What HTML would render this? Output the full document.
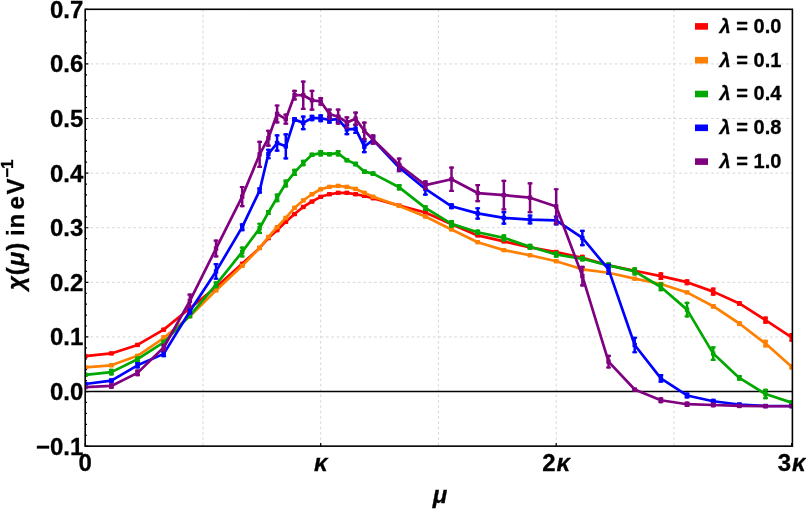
<!DOCTYPE html><html><head><meta charset="utf-8"><style>html,body{margin:0;padding:0;background:#fff}svg{display:block;will-change:transform;opacity:0.999}text{font-family:"Liberation Sans",sans-serif;font-weight:bold;fill:#000;stroke:#000;stroke-width:0.3px}</style></head><body>
<svg width="806" height="509" viewBox="0 0 806 509">
<rect width="806" height="509" fill="#fff"/>
<path d="M202.95 9.3V446.15M320.70 9.3V446.15M438.45 9.3V446.15M556.20 9.3V446.15M673.95 9.3V446.15M85.2 63.91H792.4M85.2 118.51H792.4M85.2 173.12H792.4M85.2 227.73H792.4M85.2 282.33H792.4M85.2 336.94H792.4" stroke="#d2d2d2" stroke-width="0.9" stroke-dasharray="2.7 2.65" fill="none"/>
<path d="M85.2 391.54H792.4" stroke="#000" stroke-width="1.4" fill="none"/>
<clipPath id="cp"><rect x="85.2" y="9.3" width="707.20" height="436.85"/></clipPath><g clip-path="url(#cp)">
<g stroke="#ff0000" fill="none"><polyline points="85.20,356.05 111.37,353.43 137.53,344.91 163.70,329.62 189.87,308.21 216.03,287.25 242.20,263.82 259.64,247.93 268.37,238.10 277.09,230.18 285.81,221.72 294.53,214.07 303.26,206.97 311.98,201.51 320.70,196.82 329.42,194.25 338.14,192.83 346.87,192.83 355.59,194.25 364.31,195.83 373.03,198.24 399.20,205.66 425.37,212.44 451.53,224.34 477.70,235.42 503.87,241.43 530.03,247.33 556.20,252.02 582.37,257.81 608.53,265.40 634.70,270.75 660.87,276.16 687.03,282.17 713.20,291.61 739.37,303.46 765.53,320.06 791.70,337.27" stroke-width="2.7" stroke-linejoin="round"/><path d="M85.20 354.41V357.69M111.37 351.79V355.07M137.53 343.27V346.55M163.70 327.98V331.26M189.87 306.58V309.85M216.03 285.61V288.88M242.20 262.18V265.46M259.64 246.29V249.57M268.37 236.46V239.74M277.09 228.54V231.82M285.81 220.08V223.36M294.53 212.44V215.71M303.26 205.34V208.61M311.98 199.88V203.15M320.70 195.18V198.46M329.42 192.61V195.89M338.14 191.19V194.47M346.87 191.19V194.47M355.59 192.61V195.89M364.31 194.20V197.47M373.03 196.60V199.88M399.20 204.03V207.30M425.37 210.80V214.07M451.53 222.70V225.98M477.70 233.79V237.06M503.87 239.79V243.07M530.03 245.69V248.97M556.20 250.39V253.66M582.37 254.81V260.82M608.53 263.22V267.59M634.70 268.57V272.94M660.87 272.34V279.98M687.03 279.16V285.17M713.20 287.52V295.71M739.37 301.28V305.65M765.53 316.41V323.72M791.70 332.90V341.63" stroke-width="2.5"/><path d="M82.80 355.51H87.60M82.80 356.59H87.60M108.97 352.89H113.77M108.97 353.97H113.77M135.13 344.37H139.93M135.13 345.45H139.93M161.30 329.08H166.10M161.30 330.16H166.10M187.47 307.68H192.27M187.47 308.75H192.27M213.63 286.71H218.43M213.63 287.78H218.43M239.80 263.28H244.60M239.80 264.36H244.60M257.24 247.39H262.04M257.24 248.47H262.04M265.97 237.56H270.77M265.97 238.64H270.77M274.69 229.64H279.49M274.69 230.72H279.49M283.41 221.18H288.21M283.41 222.26H288.21M292.13 213.54H296.93M292.13 214.61H296.93M300.86 206.44H305.66M300.86 207.51H305.66M309.58 200.98H314.38M309.58 202.05H314.38M318.30 196.28H323.10M318.30 197.36H323.10M327.02 193.71H331.82M327.02 194.79H331.82M335.74 192.29H340.54M335.74 193.37H340.54M344.47 192.29H349.27M344.47 193.37H349.27M353.19 193.71H357.99M353.19 194.79H357.99M361.91 195.30H366.71M361.91 196.37H366.71M370.63 197.70H375.43M370.63 198.78H375.43M396.80 205.13H401.60M396.80 206.20H401.60M422.97 211.90H427.77M422.97 212.97H427.77M449.13 223.80H453.93M449.13 224.88H453.93M475.30 234.89H480.10M475.30 235.96H480.10M501.47 240.89H506.27M501.47 241.97H506.27M527.63 246.79H532.43M527.63 247.87H532.43M553.80 251.49H558.60M553.80 252.56H558.60M579.97 255.91H584.77M579.97 259.72H584.77M606.13 264.32H610.93M606.13 266.49H610.93M632.30 269.67H637.10M632.30 271.84H637.10M658.47 273.44H663.27M658.47 278.88H663.27M684.63 280.26H689.43M684.63 284.07H689.43M710.80 288.62H715.60M710.80 294.61H715.60M736.97 302.38H741.77M736.97 304.55H741.77M763.13 317.51H767.93M763.13 322.62H767.93M789.30 334.00H794.10M789.30 340.53H794.10" stroke-width="2.2"/></g>
<g fill="#ff0000"><rect x="83.00" y="353.85" width="4.4" height="4.4"/><rect x="109.17" y="351.23" width="4.4" height="4.4"/><rect x="135.33" y="342.71" width="4.4" height="4.4"/><rect x="161.50" y="327.42" width="4.4" height="4.4"/><rect x="187.67" y="306.01" width="4.4" height="4.4"/><rect x="213.83" y="285.05" width="4.4" height="4.4"/><rect x="240.00" y="261.62" width="4.4" height="4.4"/><rect x="257.44" y="245.73" width="4.4" height="4.4"/><rect x="266.17" y="235.90" width="4.4" height="4.4"/><rect x="274.89" y="227.98" width="4.4" height="4.4"/><rect x="283.61" y="219.52" width="4.4" height="4.4"/><rect x="292.33" y="211.87" width="4.4" height="4.4"/><rect x="301.06" y="204.77" width="4.4" height="4.4"/><rect x="309.78" y="199.31" width="4.4" height="4.4"/><rect x="318.50" y="194.62" width="4.4" height="4.4"/><rect x="327.22" y="192.05" width="4.4" height="4.4"/><rect x="335.94" y="190.63" width="4.4" height="4.4"/><rect x="344.67" y="190.63" width="4.4" height="4.4"/><rect x="353.39" y="192.05" width="4.4" height="4.4"/><rect x="362.11" y="193.63" width="4.4" height="4.4"/><rect x="370.83" y="196.04" width="4.4" height="4.4"/><rect x="397.00" y="203.46" width="4.4" height="4.4"/><rect x="423.17" y="210.24" width="4.4" height="4.4"/><rect x="449.33" y="222.14" width="4.4" height="4.4"/><rect x="475.50" y="233.22" width="4.4" height="4.4"/><rect x="501.67" y="239.23" width="4.4" height="4.4"/><rect x="527.83" y="245.13" width="4.4" height="4.4"/><rect x="554.00" y="249.82" width="4.4" height="4.4"/><rect x="580.17" y="255.61" width="4.4" height="4.4"/><rect x="606.33" y="263.20" width="4.4" height="4.4"/><rect x="632.50" y="268.55" width="4.4" height="4.4"/><rect x="658.67" y="273.96" width="4.4" height="4.4"/><rect x="684.83" y="279.97" width="4.4" height="4.4"/><rect x="711.00" y="289.41" width="4.4" height="4.4"/><rect x="737.17" y="301.26" width="4.4" height="4.4"/><rect x="763.33" y="317.86" width="4.4" height="4.4"/><rect x="789.50" y="335.07" width="4.4" height="4.4"/></g>
<g stroke="#ff8000" fill="none"><polyline points="85.20,367.30 111.37,365.33 137.53,355.83 163.70,338.03 189.87,316.19 216.03,290.41 242.20,265.84 259.64,247.93 268.37,237.01 277.09,227.18 285.81,217.90 294.53,207.79 303.26,200.42 311.98,194.25 320.70,189.28 329.42,186.88 338.14,185.90 346.87,186.88 355.59,188.90 364.31,192.83 373.03,196.82 399.20,205.88 425.37,216.53 451.53,229.47 477.70,242.20 503.87,250.11 530.03,255.30 556.20,261.20 582.37,269.33 608.53,272.72 634.70,278.67 660.87,283.97 687.03,292.43 713.20,306.19 739.37,323.50 765.53,343.60 791.70,366.70" stroke-width="2.7" stroke-linejoin="round"/><path d="M85.20 365.66V368.94M111.37 363.69V366.97M137.53 354.19V357.47M163.70 335.30V340.76M189.87 314.55V317.83M216.03 288.77V292.05M242.20 264.20V267.48M259.64 246.29V249.57M268.37 235.37V238.65M277.09 225.54V228.82M285.81 216.26V219.53M294.53 206.16V209.43M303.26 198.78V202.06M311.98 192.61V195.89M320.70 187.64V190.92M329.42 185.24V188.52M338.14 184.26V187.53M346.87 185.24V188.52M355.59 187.26V190.54M364.31 191.19V194.47M373.03 195.18V198.46M399.20 204.24V207.52M425.37 214.89V218.17M451.53 227.83V231.11M477.70 240.56V243.83M503.87 248.48V251.75M530.03 253.66V256.94M556.20 259.56V262.84M582.37 267.70V270.97M608.53 271.08V274.36M634.70 277.03V280.31M660.87 282.33V285.61M687.03 290.80V294.07M713.20 304.01V308.38M739.37 321.32V325.69M765.53 339.78V347.42M791.70 363.97V369.43" stroke-width="2.5"/><path d="M82.80 366.76H87.60M82.80 367.84H87.60M108.97 364.79H113.77M108.97 365.87H113.77M135.13 355.29H139.93M135.13 356.37H139.93M161.30 336.40H166.10M161.30 339.66H166.10M187.47 315.65H192.27M187.47 316.73H192.27M213.63 289.87H218.43M213.63 290.95H218.43M239.80 265.30H244.60M239.80 266.38H244.60M257.24 247.39H262.04M257.24 248.47H262.04M265.97 236.47H270.77M265.97 237.55H270.77M274.69 226.64H279.49M274.69 227.72H279.49M283.41 217.36H288.21M283.41 218.43H288.21M292.13 207.26H296.93M292.13 208.33H296.93M300.86 199.88H305.66M300.86 200.96H305.66M309.58 193.71H314.38M309.58 194.79H314.38M318.30 188.74H323.10M318.30 189.82H323.10M327.02 186.34H331.82M327.02 187.42H331.82M335.74 185.36H340.54M335.74 186.43H340.54M344.47 186.34H349.27M344.47 187.42H349.27M353.19 188.36H357.99M353.19 189.44H357.99M361.91 192.29H366.71M361.91 193.37H366.71M370.63 196.28H375.43M370.63 197.36H375.43M396.80 205.34H401.60M396.80 206.42H401.60M422.97 215.99H427.77M422.97 217.07H427.77M449.13 228.93H453.93M449.13 230.01H453.93M475.30 241.66H480.10M475.30 242.73H480.10M501.47 249.58H506.27M501.47 250.65H506.27M527.63 254.76H532.43M527.63 255.84H532.43M553.80 260.66H558.60M553.80 261.74H558.60M579.97 268.80H584.77M579.97 269.87H584.77M606.13 272.18H610.93M606.13 273.26H610.93M632.30 278.13H637.10M632.30 279.21H637.10M658.47 283.43H663.27M658.47 284.51H663.27M684.63 291.90H689.43M684.63 292.97H689.43M710.80 305.11H715.60M710.80 307.28H715.60M736.97 322.42H741.77M736.97 324.59H741.77M763.13 340.88H767.93M763.13 346.32H767.93M789.30 365.07H794.10M789.30 368.33H794.10" stroke-width="2.2"/></g>
<g fill="#ff8000"><rect x="83.00" y="365.10" width="4.4" height="4.4"/><rect x="109.17" y="363.13" width="4.4" height="4.4"/><rect x="135.33" y="353.63" width="4.4" height="4.4"/><rect x="161.50" y="335.83" width="4.4" height="4.4"/><rect x="187.67" y="313.99" width="4.4" height="4.4"/><rect x="213.83" y="288.21" width="4.4" height="4.4"/><rect x="240.00" y="263.64" width="4.4" height="4.4"/><rect x="257.44" y="245.73" width="4.4" height="4.4"/><rect x="266.17" y="234.81" width="4.4" height="4.4"/><rect x="274.89" y="224.98" width="4.4" height="4.4"/><rect x="283.61" y="215.70" width="4.4" height="4.4"/><rect x="292.33" y="205.59" width="4.4" height="4.4"/><rect x="301.06" y="198.22" width="4.4" height="4.4"/><rect x="309.78" y="192.05" width="4.4" height="4.4"/><rect x="318.50" y="187.08" width="4.4" height="4.4"/><rect x="327.22" y="184.68" width="4.4" height="4.4"/><rect x="335.94" y="183.70" width="4.4" height="4.4"/><rect x="344.67" y="184.68" width="4.4" height="4.4"/><rect x="353.39" y="186.70" width="4.4" height="4.4"/><rect x="362.11" y="190.63" width="4.4" height="4.4"/><rect x="370.83" y="194.62" width="4.4" height="4.4"/><rect x="397.00" y="203.68" width="4.4" height="4.4"/><rect x="423.17" y="214.33" width="4.4" height="4.4"/><rect x="449.33" y="227.27" width="4.4" height="4.4"/><rect x="475.50" y="240.00" width="4.4" height="4.4"/><rect x="501.67" y="247.91" width="4.4" height="4.4"/><rect x="527.83" y="253.10" width="4.4" height="4.4"/><rect x="554.00" y="259.00" width="4.4" height="4.4"/><rect x="580.17" y="267.13" width="4.4" height="4.4"/><rect x="606.33" y="270.52" width="4.4" height="4.4"/><rect x="632.50" y="276.47" width="4.4" height="4.4"/><rect x="658.67" y="281.77" width="4.4" height="4.4"/><rect x="684.83" y="290.23" width="4.4" height="4.4"/><rect x="711.00" y="303.99" width="4.4" height="4.4"/><rect x="737.17" y="321.30" width="4.4" height="4.4"/><rect x="763.33" y="341.40" width="4.4" height="4.4"/><rect x="789.50" y="364.50" width="4.4" height="4.4"/></g>
<g stroke="#00a800" fill="none"><polyline points="85.20,374.89 111.37,372.10 137.53,359.22 163.70,342.40 189.87,315.64 216.03,284.68 242.20,251.92 259.64,228.27 268.37,212.44 277.09,197.80 285.81,183.49 294.53,172.41 303.26,163.07 311.98,154.83 320.70,153.19 329.42,154.17 338.14,153.19 346.87,160.12 355.59,164.05 364.31,171.64 373.03,173.61 399.20,187.32 425.37,207.90 451.53,223.90 477.70,232.26 503.87,237.83 530.03,246.73 556.20,254.48 582.37,258.80 608.53,265.40 634.70,271.36 660.87,286.97 687.03,309.63 713.20,353.59 739.37,377.89 765.53,394.06 791.70,402.63" stroke-width="2.7" stroke-linejoin="round"/><path d="M85.20 372.70V377.07M111.37 368.83V375.38M137.53 356.49V361.95M163.70 339.67V345.13M189.87 312.91V318.37M216.03 281.13V288.23M242.20 246.45V257.38M259.64 222.65V233.90M268.37 209.92V214.95M277.09 193.43V202.17M285.81 179.51V187.48M294.53 168.75V176.07M303.26 159.79V166.35M311.98 152.64V157.01M320.70 149.91V156.46M329.42 151.99V156.35M338.14 149.91V156.46M346.87 157.94V162.31M355.59 161.87V166.24M364.31 169.46V173.83M373.03 171.43V175.79M399.20 184.04V190.59M425.37 205.17V210.63M451.53 220.08V227.73M477.70 229.53V234.99M503.87 234.28V241.38M530.03 243.72V249.73M556.20 251.21V257.76M582.37 256.07V261.53M608.53 262.13V268.68M634.70 267.21V275.51M660.87 282.60V291.34M687.03 301.72V317.55M713.20 346.28V360.91M739.37 374.94V380.84M765.53 388.81V399.30M791.70 400.44V404.81" stroke-width="2.5"/><path d="M82.80 373.80H87.60M82.80 375.97H87.60M108.97 369.93H113.77M108.97 374.28H113.77M135.13 357.59H139.93M135.13 360.85H139.93M161.30 340.77H166.10M161.30 344.03H166.10M187.47 314.01H192.27M187.47 317.27H192.27M213.63 282.23H218.43M213.63 287.13H218.43M239.80 247.55H244.60M239.80 256.28H244.60M257.24 223.75H262.04M257.24 232.80H262.04M265.97 211.02H270.77M265.97 213.85H270.77M274.69 194.53H279.49M274.69 201.07H279.49M283.41 180.61H288.21M283.41 186.38H288.21M292.13 169.85H296.93M292.13 174.97H296.93M300.86 160.89H305.66M300.86 165.25H305.66M309.58 153.74H314.38M309.58 155.91H314.38M318.30 151.01H323.10M318.30 155.36H323.10M327.02 153.09H331.82M327.02 155.25H331.82M335.74 151.01H340.54M335.74 155.36H340.54M344.47 159.04H349.27M344.47 161.21H349.27M353.19 162.97H357.99M353.19 165.14H357.99M361.91 170.56H366.71M361.91 172.73H366.71M370.63 172.53H375.43M370.63 174.69H375.43M396.80 185.14H401.60M396.80 189.49H401.60M422.97 206.27H427.77M422.97 209.53H427.77M449.13 221.18H453.93M449.13 226.63H453.93M475.30 230.63H480.10M475.30 233.89H480.10M501.47 235.38H506.27M501.47 240.28H506.27M527.63 244.82H532.43M527.63 248.63H532.43M553.80 252.31H558.60M553.80 256.66H558.60M579.97 257.17H584.77M579.97 260.43H584.77M606.13 263.23H610.93M606.13 267.58H610.93M632.30 268.31H637.10M632.30 274.41H637.10M658.47 283.70H663.27M658.47 290.24H663.27M684.63 302.82H689.43M684.63 316.45H689.43M710.80 347.38H715.60M710.80 359.81H715.60M736.97 376.04H741.77M736.97 379.74H741.77M763.13 389.91H767.93M763.13 398.20H767.93M789.30 401.54H794.10M789.30 403.71H794.10" stroke-width="2.2"/></g>
<g fill="#00a800"><rect x="83.00" y="372.69" width="4.4" height="4.4"/><rect x="109.17" y="369.90" width="4.4" height="4.4"/><rect x="135.33" y="357.02" width="4.4" height="4.4"/><rect x="161.50" y="340.20" width="4.4" height="4.4"/><rect x="187.67" y="313.44" width="4.4" height="4.4"/><rect x="213.83" y="282.48" width="4.4" height="4.4"/><rect x="240.00" y="249.72" width="4.4" height="4.4"/><rect x="257.44" y="226.07" width="4.4" height="4.4"/><rect x="266.17" y="210.24" width="4.4" height="4.4"/><rect x="274.89" y="195.60" width="4.4" height="4.4"/><rect x="283.61" y="181.29" width="4.4" height="4.4"/><rect x="292.33" y="170.21" width="4.4" height="4.4"/><rect x="301.06" y="160.87" width="4.4" height="4.4"/><rect x="309.78" y="152.63" width="4.4" height="4.4"/><rect x="318.50" y="150.99" width="4.4" height="4.4"/><rect x="327.22" y="151.97" width="4.4" height="4.4"/><rect x="335.94" y="150.99" width="4.4" height="4.4"/><rect x="344.67" y="157.92" width="4.4" height="4.4"/><rect x="353.39" y="161.85" width="4.4" height="4.4"/><rect x="362.11" y="169.44" width="4.4" height="4.4"/><rect x="370.83" y="171.41" width="4.4" height="4.4"/><rect x="397.00" y="185.12" width="4.4" height="4.4"/><rect x="423.17" y="205.70" width="4.4" height="4.4"/><rect x="449.33" y="221.70" width="4.4" height="4.4"/><rect x="475.50" y="230.06" width="4.4" height="4.4"/><rect x="501.67" y="235.63" width="4.4" height="4.4"/><rect x="527.83" y="244.53" width="4.4" height="4.4"/><rect x="554.00" y="252.28" width="4.4" height="4.4"/><rect x="580.17" y="256.60" width="4.4" height="4.4"/><rect x="606.33" y="263.20" width="4.4" height="4.4"/><rect x="632.50" y="269.16" width="4.4" height="4.4"/><rect x="658.67" y="284.77" width="4.4" height="4.4"/><rect x="684.83" y="307.43" width="4.4" height="4.4"/><rect x="711.00" y="351.39" width="4.4" height="4.4"/><rect x="737.17" y="375.69" width="4.4" height="4.4"/><rect x="763.33" y="391.86" width="4.4" height="4.4"/><rect x="789.50" y="400.43" width="4.4" height="4.4"/></g>
<g stroke="#0000ff" fill="none"><polyline points="85.20,384.01 111.37,380.62 137.53,365.33 163.70,353.87 189.87,311.27 216.03,271.41 242.20,227.18 259.64,190.59 268.37,154.01 277.09,143.09 285.81,146.36 294.53,119.44 303.26,122.88 311.98,117.91 320.70,118.29 329.42,119.88 338.14,119.11 346.87,129.43 355.59,128.83 364.31,146.69 373.03,139.81 399.20,167.55 425.37,188.95 451.53,206.26 477.70,213.42 503.87,217.90 530.03,219.53 556.20,220.46 582.37,237.99 608.53,269.33 634.70,345.02 660.87,378.38 687.03,395.48 713.20,401.26 739.37,404.49 765.53,406.01 791.70,406.01" stroke-width="2.7" stroke-linejoin="round"/><path d="M85.20 382.37V385.65M111.37 378.44V382.81M137.53 362.06V368.61M163.70 350.59V357.14M189.87 308.00V314.55M216.03 262.95V279.87M242.20 223.19V231.17M259.64 187.32V193.87M268.37 148.66V159.36M277.09 134.35V151.82M285.81 133.20V159.52M294.53 117.26V121.63M303.26 115.51V130.25M311.98 114.64V121.19M320.70 114.31V122.28M329.42 116.06V123.70M338.14 115.29V122.94M346.87 123.70V135.17M355.59 123.65V134.02M364.31 140.14V153.24M373.03 135.44V144.18M399.20 164.27V170.83M425.37 182.13V195.78M451.53 203.26V209.27M477.70 207.14V219.70M503.87 211.07V224.72M530.03 214.62V224.45M556.20 215.55V225.38M582.37 229.69V246.29M608.53 263.87V274.80M634.70 336.66V353.37M660.87 374.02V382.75M687.03 392.47V398.48M713.20 398.81V403.72M739.37 402.85V406.12M765.53 404.38V407.65M791.70 404.38V407.65" stroke-width="2.5"/><path d="M82.80 383.47H87.60M82.80 384.55H87.60M108.97 379.54H113.77M108.97 381.71H113.77M135.13 363.16H139.93M135.13 367.51H139.93M161.30 351.69H166.10M161.30 356.04H166.10M187.47 309.10H192.27M187.47 313.45H192.27M213.63 264.05H218.43M213.63 278.77H218.43M239.80 224.29H244.60M239.80 230.07H244.60M257.24 188.42H262.04M257.24 192.77H262.04M265.97 149.76H270.77M265.97 158.26H270.77M274.69 135.45H279.49M274.69 150.72H279.49M283.41 134.30H288.21M283.41 158.42H288.21M292.13 118.36H296.93M292.13 120.53H296.93M300.86 116.61H305.66M300.86 129.15H305.66M309.58 115.74H314.38M309.58 120.09H314.38M318.30 115.41H323.10M318.30 121.18H323.10M327.02 117.16H331.82M327.02 122.60H331.82M335.74 116.39H340.54M335.74 121.84H340.54M344.47 124.80H349.27M344.47 134.07H349.27M353.19 124.75H357.99M353.19 132.92H357.99M361.91 141.24H366.71M361.91 152.14H366.71M370.63 136.54H375.43M370.63 143.08H375.43M396.80 165.37H401.60M396.80 169.73H401.60M422.97 183.23H427.77M422.97 194.68H427.77M449.13 204.36H453.93M449.13 208.17H453.93M475.30 208.24H480.10M475.30 218.60H480.10M501.47 212.17H506.27M501.47 223.62H506.27M527.63 215.72H532.43M527.63 223.35H532.43M553.80 216.65H558.60M553.80 224.28H558.60M579.97 230.79H584.77M579.97 245.19H584.77M606.13 264.97H610.93M606.13 273.70H610.93M632.30 337.76H637.10M632.30 352.27H637.10M658.47 375.12H663.27M658.47 381.65H663.27M684.63 393.57H689.43M684.63 397.38H689.43M710.80 399.91H715.60M710.80 402.62H715.60M736.97 403.95H741.77M736.97 405.02H741.77M763.13 405.48H767.93M763.13 406.55H767.93M789.30 405.48H794.10M789.30 406.55H794.10" stroke-width="2.2"/></g>
<g fill="#0000ff"><rect x="83.00" y="381.81" width="4.4" height="4.4"/><rect x="109.17" y="378.42" width="4.4" height="4.4"/><rect x="135.33" y="363.13" width="4.4" height="4.4"/><rect x="161.50" y="351.67" width="4.4" height="4.4"/><rect x="187.67" y="309.07" width="4.4" height="4.4"/><rect x="213.83" y="269.21" width="4.4" height="4.4"/><rect x="240.00" y="224.98" width="4.4" height="4.4"/><rect x="257.44" y="188.39" width="4.4" height="4.4"/><rect x="266.17" y="151.81" width="4.4" height="4.4"/><rect x="274.89" y="140.89" width="4.4" height="4.4"/><rect x="283.61" y="144.16" width="4.4" height="4.4"/><rect x="292.33" y="117.24" width="4.4" height="4.4"/><rect x="301.06" y="120.68" width="4.4" height="4.4"/><rect x="309.78" y="115.71" width="4.4" height="4.4"/><rect x="318.50" y="116.09" width="4.4" height="4.4"/><rect x="327.22" y="117.68" width="4.4" height="4.4"/><rect x="335.94" y="116.91" width="4.4" height="4.4"/><rect x="344.67" y="127.23" width="4.4" height="4.4"/><rect x="353.39" y="126.63" width="4.4" height="4.4"/><rect x="362.11" y="144.49" width="4.4" height="4.4"/><rect x="370.83" y="137.61" width="4.4" height="4.4"/><rect x="397.00" y="165.35" width="4.4" height="4.4"/><rect x="423.17" y="186.75" width="4.4" height="4.4"/><rect x="449.33" y="204.06" width="4.4" height="4.4"/><rect x="475.50" y="211.22" width="4.4" height="4.4"/><rect x="501.67" y="215.70" width="4.4" height="4.4"/><rect x="527.83" y="217.33" width="4.4" height="4.4"/><rect x="554.00" y="218.26" width="4.4" height="4.4"/><rect x="580.17" y="235.79" width="4.4" height="4.4"/><rect x="606.33" y="267.13" width="4.4" height="4.4"/><rect x="632.50" y="342.82" width="4.4" height="4.4"/><rect x="658.67" y="376.18" width="4.4" height="4.4"/><rect x="684.83" y="393.28" width="4.4" height="4.4"/><rect x="711.00" y="399.06" width="4.4" height="4.4"/><rect x="737.17" y="402.29" width="4.4" height="4.4"/><rect x="763.33" y="403.81" width="4.4" height="4.4"/><rect x="789.50" y="403.81" width="4.4" height="4.4"/></g>
<g stroke="#800080" fill="none"><polyline points="85.20,387.18 111.37,385.97 137.53,372.87 163.70,347.48 189.87,300.90 216.03,248.53 242.20,196.60 259.64,154.33 268.37,138.17 277.09,113.93 285.81,119.11 294.53,95.03 303.26,95.25 311.98,100.22 320.70,101.42 329.42,113.93 338.14,116.71 346.87,122.44 355.59,118.68 364.31,130.80 373.03,139.43 399.20,164.98 425.37,185.13 451.53,179.23 477.70,193.05 503.87,195.13 530.03,197.69 556.20,206.43 582.37,276.05 608.53,361.67 634.70,389.52 660.87,400.23 687.03,404.21 713.20,404.98 739.37,405.96 765.53,406.23 791.70,406.23" stroke-width="2.7" stroke-linejoin="round"/><path d="M85.20 385.54V388.81M111.37 383.24V388.70M137.53 369.59V376.14M163.70 343.65V351.30M189.87 293.53V308.27M216.03 239.57V257.49M242.20 185.90V207.30M259.64 140.68V167.99M268.37 129.65V146.69M277.09 104.42V123.43M285.81 113.54V124.68M294.53 89.68V100.38M303.26 80.56V109.94M311.98 89.68V110.76M320.70 97.05V105.79M329.42 108.46V119.39M338.14 108.57V124.85M346.87 116.22V128.67M355.59 111.52V125.83M364.31 121.46V140.14M373.03 134.18V144.67M399.20 157.61V172.35M425.37 180.22V190.05M451.53 166.51V191.96M477.70 183.93V202.17M503.87 179.84V210.41M530.03 182.18V213.20M556.20 188.14V224.72M582.37 265.68V286.43M608.53 354.74V368.61M634.70 387.89V391.16M660.87 397.22V403.23M687.03 401.48V406.94M713.20 402.79V407.16M739.37 404.32V407.60M765.53 404.59V407.87M791.70 404.59V407.87" stroke-width="2.5"/><path d="M82.80 386.64H87.60M82.80 387.71H87.60M108.97 384.34H113.77M108.97 387.60H113.77M135.13 370.69H139.93M135.13 375.04H139.93M161.30 344.75H166.10M161.30 350.20H166.10M187.47 294.63H192.27M187.47 307.17H192.27M213.63 240.67H218.43M213.63 256.39H218.43M239.80 187.00H244.60M239.80 206.20H244.60M257.24 141.78H262.04M257.24 166.89H262.04M265.97 130.75H270.77M265.97 145.59H270.77M274.69 105.52H279.49M274.69 122.33H279.49M283.41 114.64H288.21M283.41 123.58H288.21M292.13 90.78H296.93M292.13 99.28H296.93M300.86 81.66H305.66M300.86 108.84H305.66M309.58 90.78H314.38M309.58 109.66H314.38M318.30 98.15H323.10M318.30 104.69H323.10M327.02 109.56H331.82M327.02 118.29H331.82M335.74 109.67H340.54M335.74 123.75H340.54M344.47 117.32H349.27M344.47 127.57H349.27M353.19 112.62H357.99M353.19 124.73H357.99M361.91 122.56H366.71M361.91 139.04H366.71M370.63 135.28H375.43M370.63 143.57H375.43M396.80 158.71H401.60M396.80 171.25H401.60M422.97 181.32H427.77M422.97 188.95H427.77M449.13 167.61H453.93M449.13 190.86H453.93M475.30 185.03H480.10M475.30 201.07H480.10M501.47 180.94H506.27M501.47 209.31H506.27M527.63 183.28H532.43M527.63 212.10H532.43M553.80 189.24H558.60M553.80 223.62H558.60M579.97 266.78H584.77M579.97 285.33H584.77M606.13 355.84H610.93M606.13 367.51H610.93M632.30 388.99H637.10M632.30 390.06H637.10M658.47 398.32H663.27M658.47 402.13H663.27M684.63 402.58H689.43M684.63 405.84H689.43M710.80 403.89H715.60M710.80 406.06H715.60M736.97 405.42H741.77M736.97 406.50H741.77M763.13 405.69H767.93M763.13 406.77H767.93M789.30 405.69H794.10M789.30 406.77H794.10" stroke-width="2.2"/></g>
<g fill="#800080"><rect x="83.00" y="384.98" width="4.4" height="4.4"/><rect x="109.17" y="383.77" width="4.4" height="4.4"/><rect x="135.33" y="370.67" width="4.4" height="4.4"/><rect x="161.50" y="345.28" width="4.4" height="4.4"/><rect x="187.67" y="298.70" width="4.4" height="4.4"/><rect x="213.83" y="246.33" width="4.4" height="4.4"/><rect x="240.00" y="194.40" width="4.4" height="4.4"/><rect x="257.44" y="152.13" width="4.4" height="4.4"/><rect x="266.17" y="135.97" width="4.4" height="4.4"/><rect x="274.89" y="111.73" width="4.4" height="4.4"/><rect x="283.61" y="116.91" width="4.4" height="4.4"/><rect x="292.33" y="92.83" width="4.4" height="4.4"/><rect x="301.06" y="93.05" width="4.4" height="4.4"/><rect x="309.78" y="98.02" width="4.4" height="4.4"/><rect x="318.50" y="99.22" width="4.4" height="4.4"/><rect x="327.22" y="111.73" width="4.4" height="4.4"/><rect x="335.94" y="114.51" width="4.4" height="4.4"/><rect x="344.67" y="120.24" width="4.4" height="4.4"/><rect x="353.39" y="116.48" width="4.4" height="4.4"/><rect x="362.11" y="128.60" width="4.4" height="4.4"/><rect x="370.83" y="137.23" width="4.4" height="4.4"/><rect x="397.00" y="162.78" width="4.4" height="4.4"/><rect x="423.17" y="182.93" width="4.4" height="4.4"/><rect x="449.33" y="177.03" width="4.4" height="4.4"/><rect x="475.50" y="190.85" width="4.4" height="4.4"/><rect x="501.67" y="192.93" width="4.4" height="4.4"/><rect x="527.83" y="195.49" width="4.4" height="4.4"/><rect x="554.00" y="204.23" width="4.4" height="4.4"/><rect x="580.17" y="273.85" width="4.4" height="4.4"/><rect x="606.33" y="359.47" width="4.4" height="4.4"/><rect x="632.50" y="387.32" width="4.4" height="4.4"/><rect x="658.67" y="398.03" width="4.4" height="4.4"/><rect x="684.83" y="402.01" width="4.4" height="4.4"/><rect x="711.00" y="402.78" width="4.4" height="4.4"/><rect x="737.17" y="403.76" width="4.4" height="4.4"/><rect x="763.33" y="404.03" width="4.4" height="4.4"/><rect x="789.50" y="404.03" width="4.4" height="4.4"/></g>
</g>
<path d="M85.2 446.15h3.2M85.2 435.23h1.8M85.2 424.31h1.8M85.2 413.39h1.8M85.2 402.46h1.8M85.2 391.54h3.2M85.2 380.62h1.8M85.2 369.70h1.8M85.2 358.78h1.8M85.2 347.86h1.8M85.2 336.94h3.2M85.2 326.02h1.8M85.2 315.10h1.8M85.2 304.17h1.8M85.2 293.25h1.8M85.2 282.33h3.2M85.2 271.41h1.8M85.2 260.49h1.8M85.2 249.57h1.8M85.2 238.65h1.8M85.2 227.73h3.2M85.2 216.80h1.8M85.2 205.88h1.8M85.2 194.96h1.8M85.2 184.04h1.8M85.2 173.12h3.2M85.2 162.20h1.8M85.2 151.28h1.8M85.2 140.36h1.8M85.2 129.43h1.8M85.2 118.51h3.2M85.2 107.59h1.8M85.2 96.67h1.8M85.2 85.75h1.8M85.2 74.83h1.8M85.2 63.91h3.2M85.2 52.99h1.8M85.2 42.06h1.8M85.2 31.14h1.8M85.2 20.22h1.8M85.2 9.30h3.2M85.20 446.15v-3.2M320.70 446.15v-3.2M556.20 446.15v-3.2M791.70 446.15v-3.2" stroke="#000" stroke-width="1.2" fill="none"/>
<rect x="85.2" y="9.3" width="707.20" height="436.85" fill="none" stroke="#000" stroke-width="1.6"/>
<text x="83.4" y="17.70" font-size="24" text-anchor="end">0.7</text>
<text x="83.4" y="72.31" font-size="24" text-anchor="end">0.6</text>
<text x="83.4" y="126.91" font-size="24" text-anchor="end">0.5</text>
<text x="83.4" y="181.52" font-size="24" text-anchor="end">0.4</text>
<text x="83.4" y="236.13" font-size="24" text-anchor="end">0.3</text>
<text x="83.4" y="290.73" font-size="24" text-anchor="end">0.2</text>
<text x="83.4" y="345.34" font-size="24" text-anchor="end">0.1</text>
<text x="83.4" y="399.94" font-size="24" text-anchor="end">0.0</text>
<text x="83.4" y="454.55" font-size="24" text-anchor="end">−0.1</text>
<text x="85.20" y="471.3" font-size="24" text-anchor="middle">0</text>
<text x="320.70" y="471.3" font-size="24" text-anchor="middle" font-style="italic">κ</text>
<text x="556.20" y="471.3" font-size="24" text-anchor="middle">2<tspan font-style="italic" dx="1">κ</tspan></text>
<text x="791.70" y="471.3" font-size="24" text-anchor="middle">3<tspan font-style="italic" dx="1">κ</tspan></text>
<text x="440" y="503.2" font-size="24" text-anchor="middle" font-style="italic">μ</text>
<g transform="translate(23.6 0) rotate(-90)" font-size="24">
<text x="-290" y="0" letter-spacing="1.0"><tspan font-style="italic">χ</tspan>(<tspan font-style="italic">μ</tspan>)</text>
<text x="-236" y="0" letter-spacing="0.8">in</text>
<text x="-209.5" y="0" letter-spacing="1.6">eV</text>
<text x="-177.5" y="-10.4" font-size="17">−</text><text x="-169" y="-10.4" font-size="17">1</text>
</g>
<rect x="695" y="23.10" width="13" height="6.6" fill="#ff0000"/>
<text x="719.6" y="32.80" font-size="20"><tspan font-style="italic">λ</tspan> = 0.0</text>
<rect x="695" y="56.90" width="13" height="6.6" fill="#ff8000"/>
<text x="719.6" y="66.60" font-size="20"><tspan font-style="italic">λ</tspan> = 0.1</text>
<rect x="695" y="90.70" width="13" height="6.6" fill="#00a800"/>
<text x="719.6" y="100.40" font-size="20"><tspan font-style="italic">λ</tspan> = 0.4</text>
<rect x="695" y="124.50" width="13" height="6.6" fill="#0000ff"/>
<text x="719.6" y="134.20" font-size="20"><tspan font-style="italic">λ</tspan> = 0.8</text>
<rect x="695" y="158.30" width="13" height="6.6" fill="#800080"/>
<text x="719.6" y="168.00" font-size="20"><tspan font-style="italic">λ</tspan> = 1.0</text>
</svg></body></html>
